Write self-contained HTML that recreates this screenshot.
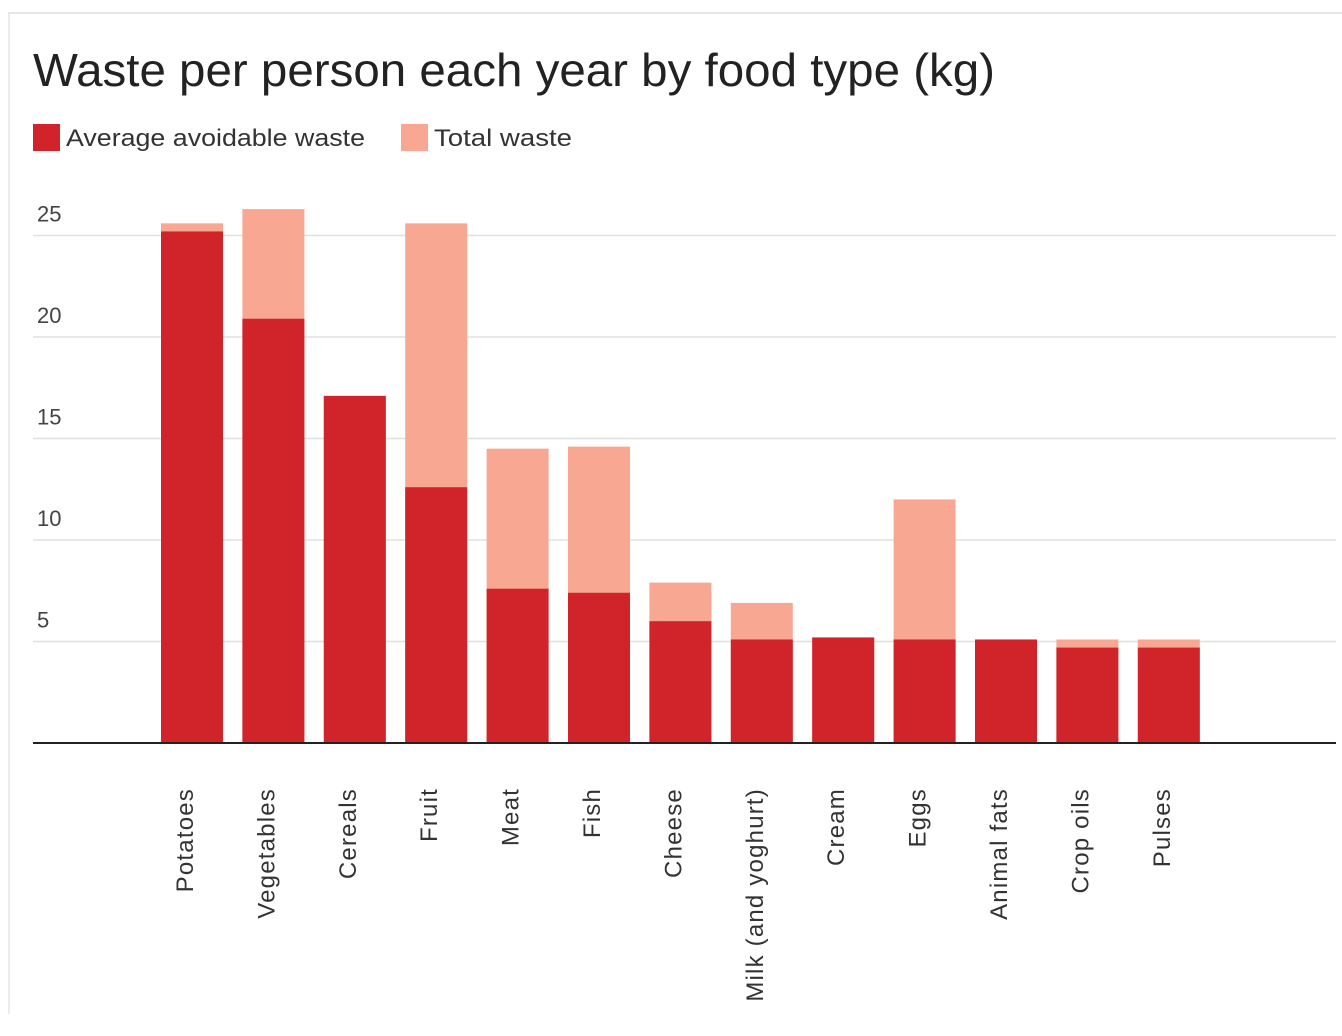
<!DOCTYPE html>
<html><head><meta charset="utf-8"><style>
body{margin:0;background:#fff;width:1342px;height:1036px;overflow:hidden;font-family:"Liberation Sans",sans-serif}
#frame{position:absolute;left:8px;top:12px;width:1334px;height:1000px;border-top:2px solid #e6e6e6;border-left:2px solid #ececec}
</style></head><body>
<div id="frame"></div>
<svg id="chart" width="1342" height="1036" style="position:absolute;left:0;top:0">
<text x="33" y="86" font-size="46" fill="#222" textLength="962" lengthAdjust="spacingAndGlyphs">Waste per person each year by food type (kg)</text>
<g>
<rect x="33" y="124" width="27" height="27" fill="#d0232a"/>
<text x="66" y="146" font-size="24" fill="#333" textLength="299" lengthAdjust="spacingAndGlyphs">Average avoidable waste</text>
<rect x="401" y="124" width="27" height="27" fill="#f8a892"/>
<text x="434" y="146" font-size="24" fill="#333" textLength="138" lengthAdjust="spacingAndGlyphs">Total waste</text>
</g>
<g id="grid"></g><g id="bars"></g><g id="labels"></g>
</svg>
<script>
const categories=["Potatoes","Vegetables","Cereals","Fruit","Meat","Fish","Cheese","Milk (and yoghurt)","Cream","Eggs","Animal fats","Crop oils","Pulses"];
const avoidable=[25.2,20.9,17.1,12.6,7.6,7.4,6.0,5.1,5.2,5.1,5.1,4.7,4.7];
const total=[25.6,26.3,17.1,25.6,14.5,14.6,7.9,6.9,5.2,12.0,5.1,5.1,5.1];
const ticks=[5,10,15,20,25];
const NS="http://www.w3.org/2000/svg";
const y0=743,pxPerUnit=20.3,x0=161,step=81.4,bw=62;
const y=v=>y0-v*pxPerUnit;
const x=i=>x0+i*step;
function mk(tag,attrs,parent){const e=document.createElementNS(NS,tag);for(const k in attrs)e.setAttribute(k,attrs[k]);parent.appendChild(e);return e;}
const grid=document.getElementById('grid'),bars=document.getElementById('bars'),labels=document.getElementById('labels');
ticks.forEach(t=>{
 const l=mk('line',{x1:33,x2:1336,y1:y(t),y2:y(t),stroke:'#e0e0e0','stroke-width':1.5},grid);
 
 
 const tx=mk('text',{x:37,y:y(t)-14,'font-size':22,fill:'#444'},grid);tx.textContent=t;
 
 
});
categories.forEach((c,i)=>{
 const r1=mk('rect',{x:x(i),y:y(total[i]),width:bw,height:y0-y(total[i]),fill:'#f8a892'},bars);
 
 
 const r2=mk('rect',{x:x(i),y:y(avoidable[i]),width:bw,height:y0-y(avoidable[i]),fill:'#d0232a'},bars);
 
 
 const cx=x(i)+bw/2+1;
 const t=mk('text',{x:cx,y:788,'font-size':24,'letter-spacing':1.2,fill:'#333','text-anchor':'end',transform:`rotate(-90 ${cx} 788)`},labels);
 t.textContent=c;
 
 
});
const ax=mk('line',{x1:33,x2:1336,y1:y0,y2:y0,stroke:'#222','stroke-width':2},bars);


</script>
</body></html>
